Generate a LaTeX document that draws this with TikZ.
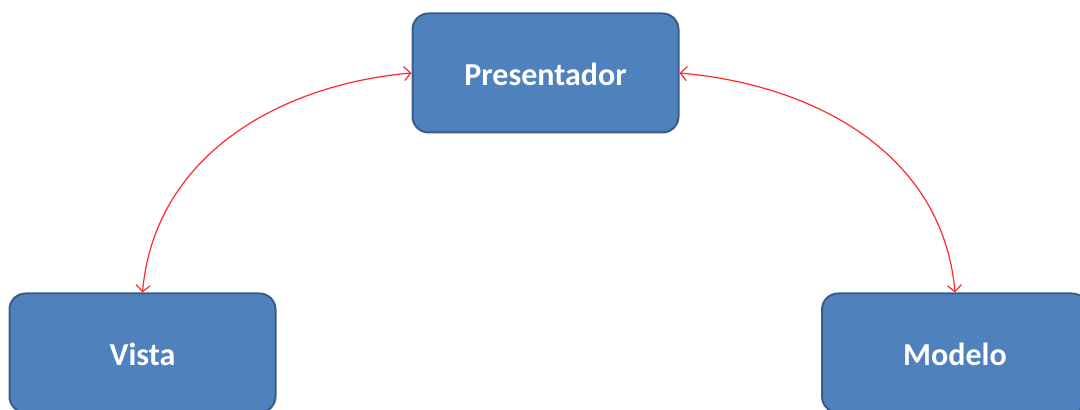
\documentclass[tikz,border=0pt]{standalone}
\usepackage{fontspec}
\setmainfont{Carlito}
\usetikzlibrary{arrows.meta}
\definecolor{boxfill}{HTML}{4F81BD}
\definecolor{boxline}{HTML}{385D8A}
\definecolor{arrowred}{HTML}{FF2A2A}
\begin{document}
\begin{tikzpicture}[x=1pt,y=1pt,
  box/.style={draw=boxline, line width=2pt, fill=boxfill, rounded corners=16pt,
    minimum width=266pt, minimum height=119pt, inner sep=0pt, text=white,
    text height=25pt, text depth=0pt,
    font=\fontsize{32}{38}\selectfont\bfseries},
  link/.style={draw=arrowred, line width=1.2pt,
    {Straight Barb[length=6.5pt,width=14pt]}-{Straight Barb[length=6.5pt,width=14pt]}}]
\useasboundingbox (0,0) rectangle (1080,410);
\clip (0,0) rectangle (1080,410);
\node[box] (P) at (545.5,337) {Presentador};
\node[box] (V) at (142.5,57) {Vista};
\node[box] (M) at (955,57) {Modelo};
\draw[link] (V.north) to[out=85,in=185,looseness=1] (P.west);
\draw[link] (P.east) to[out=-5,in=95,looseness=1] (M.north);
\end{tikzpicture}
\end{document}
